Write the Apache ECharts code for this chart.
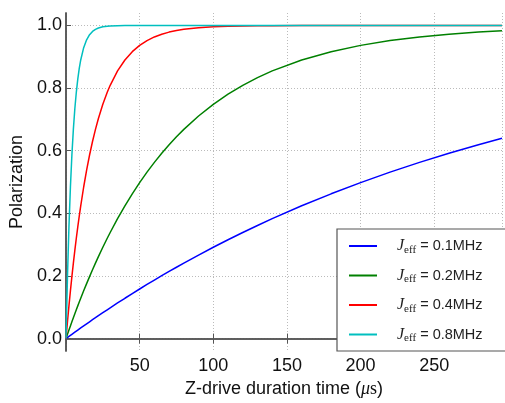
<!DOCTYPE html>
<html>
<head>
  <meta charset="utf-8">
</head>
<body style="margin: 0">
  <div id="container" style="width:505px;height:403px"></div>
  <script type="text/javascript" src="https://fastly.jsdelivr.net/npm/echarts@6/dist/echarts.min.js"></script>
  <script type="text/javascript">
    // sample times (us)
    var times = [0, 1, 2, 3, 4, 5, 6, 7, 8, 9,
      10, 12, 14, 16, 18, 20, 22, 25, 28, 30,
      35, 40, 45, 50, 55, 60, 65, 70, 75, 80,
      90, 100, 110, 120, 130, 140, 160, 180, 200, 220,
      240, 260, 280, 296];
    var seriesNames = ['0.1MHz', '0.2MHz', '0.4MHz', '0.8MHz'];
    var colors = ['#0000ff', '#008000', '#ff0000', '#00bfbf'];
    var pol01 = [0, 0.0034, 0.0069, 0.0103, 0.0137, 0.0171, 0.0205, 0.0238, 0.0272, 0.0306,
      0.0339, 0.0405, 0.0471, 0.0537, 0.0602, 0.0666, 0.0731, 0.0826, 0.0920, 0.0983,
      0.1137, 0.1288, 0.1437, 0.1584, 0.1728, 0.1870, 0.2008, 0.2144, 0.2279, 0.2411,
      0.2668, 0.2917, 0.3157, 0.3389, 0.3613, 0.3830, 0.4241, 0.4624, 0.4982, 0.5317,
      0.5629, 0.5920, 0.6192, 0.6397];
    var pol02 = [0, 0.0137, 0.0272, 0.0405, 0.0537, 0.0667, 0.0794, 0.0920, 0.1045, 0.1167,
      0.1289, 0.1525, 0.1756, 0.1980, 0.2199, 0.2411, 0.2618, 0.2917, 0.3204, 0.3389,
      0.3829, 0.4240, 0.4624, 0.4983, 0.5317, 0.5629, 0.5920, 0.6192, 0.6446, 0.6683,
      0.7110, 0.7483, 0.7807, 0.8090, 0.8336, 0.8550, 0.8900, 0.9165, 0.9366, 0.9519,
      0.9635, 0.9723, 0.9790, 0.9832];
    var pol04 = [0, 0.0537, 0.1045, 0.1525, 0.1980, 0.2411, 0.2818, 0.3204, 0.3569, 0.3914,
      0.4240, 0.4842, 0.5381, 0.5864, 0.6296, 0.6683, 0.7029, 0.7483, 0.7866, 0.8090,
      0.8550, 0.8900, 0.9165, 0.9366, 0.9519, 0.9635, 0.9723, 0.9790, 0.9840, 0.9879,
      0.9930, 0.9960, 0.9977, 0.9987, 0.9992, 0.9996, 0.9999, 1, 1, 1,
      1, 1, 1, 1];
    var pol08 = [0, 0.1980, 0.3569, 0.4842, 0.5864, 0.6683, 0.7340, 0.7867, 0.8289, 0.8629,
      0.8900, 0.9292, 0.9545, 0.9707, 0.9812, 0.9879, 0.9922, 0.9960, 0.9979, 0.9987,
      0.9996, 0.9999, 1, 1, 1, 1, 1, 1, 1, 1,
      1, 1, 1, 1, 1, 1, 1, 1, 1, 1,
      1, 1, 1, 1];
    var xTicks = [50, 100, 150, 200, 250];
    var yTicks = [0, 0.2, 0.4, 0.6, 0.8, 1.0];

    var allPol = [pol01, pol02, pol04, pol08];
    var font = 'Liberation Sans, Arial, sans-serif';
    var serif = 'Liberation Serif, DejaVu Serif, serif';
    var gridLine = { show: true, lineStyle: { color: '#bbb', type: [1, 2], width: 1 } };

    var myChart = echarts.init(document.getElementById('container'), null, { renderer: 'canvas' });

    var series = seriesNames.map(function (name, i) {
      return {
        name: name,
        type: 'line',
        data: times.map(function (t, k) { return [t, allPol[i][k]]; }),
        showSymbol: false,
        smooth: false,
        lineStyle: { color: colors[i], width: 1.5 },
        itemStyle: { color: colors[i] },
        z: 2 + i
      };
    });

    var axisLine = { show: true, lineStyle: { color: '#555', width: 1.5 } };
    var tick = { show: true, inside: true, length: 5, lineStyle: { color: '#555' } };

    var option = {
      animation: false,
      grid: { left: 66, top: 13, right: -5, bottom: 48 },
      legend: {
        orient: 'vertical',
        left: 337,
        top: 229,
        padding: [9, 40, 7, 12],
        itemWidth: 28,
        itemHeight: 2,
        itemGap: 12,
        icon: 'rect',
        borderColor: '#555',
        borderWidth: 1.2,
        backgroundColor: '#fff',
        data: seriesNames,
        formatter: function (name) {
          return '{j|J}{s|eff}{t| = ' + name + '}';
        },
        textStyle: {
          padding: [0, 0, 0, 15],
          rich: {
            j: { fontFamily: serif, fontStyle: 'italic', fontSize: 16, color: '#222', lineHeight: 20 },
            s: { fontFamily: serif, fontSize: 11, color: '#222', padding: [8, 0, 0, 0] },
            t: { fontFamily: font, fontSize: 14.5, color: '#222' }
          }
        }
      },
      xAxis: [{
        type: 'value',
        min: 0,
        max: 296,
        interval: 50,
        name: 'Z-drive duration time ({m|μ}{s|s})',
        nameLocation: 'middle',
        nameGap: 27,
        nameTextStyle: {
          fontFamily: font, fontSize: 18, color: '#111',
          rich: {
            m: { fontFamily: serif, fontStyle: 'italic', fontSize: 18, color: '#111' },
            s: { fontFamily: serif, fontSize: 18, color: '#111' }
          }
        },
        axisLine: axisLine,
        axisTick: tick,
        splitLine: gridLine,
        axisLabel: {
          margin: 6, fontFamily: font, fontSize: 18, color: '#111',
          formatter: function (v) { return xTicks.indexOf(v) >= 0 ? String(v) : ''; }
        }
      }, {
        type: 'value', position: 'top', min: 0, max: 296, interval: 50,
        axisLine: axisLine, axisTick: tick, splitLine: { show: false }, axisLabel: { show: false }
      }],
      yAxis: [{
        type: 'value',
        min: -0.04,
        max: 1.04,
        name: 'Polarization',
        nameLocation: 'middle',
        nameGap: 38,
        nameTextStyle: { fontFamily: font, fontSize: 18, color: '#111' },
        axisLine: axisLine,
        axisTick: Object.assign({ customValues: yTicks }, tick),
        splitLine: gridLine,
        axisLabel: {
          margin: 4, fontFamily: font, fontSize: 18, color: '#111',
          customValues: yTicks,
          formatter: function (v) { return v.toFixed(1); }
        }
      }, {
        type: 'value', position: 'right', min: -0.04, max: 1.04,
        axisLine: axisLine, axisTick: { show: false }, splitLine: { show: false }, axisLabel: { show: false }
      }],
      series: series
    };

    myChart.setOption(option);
    window.addEventListener('resize', myChart.resize);
  </script>
</body>
</html>
